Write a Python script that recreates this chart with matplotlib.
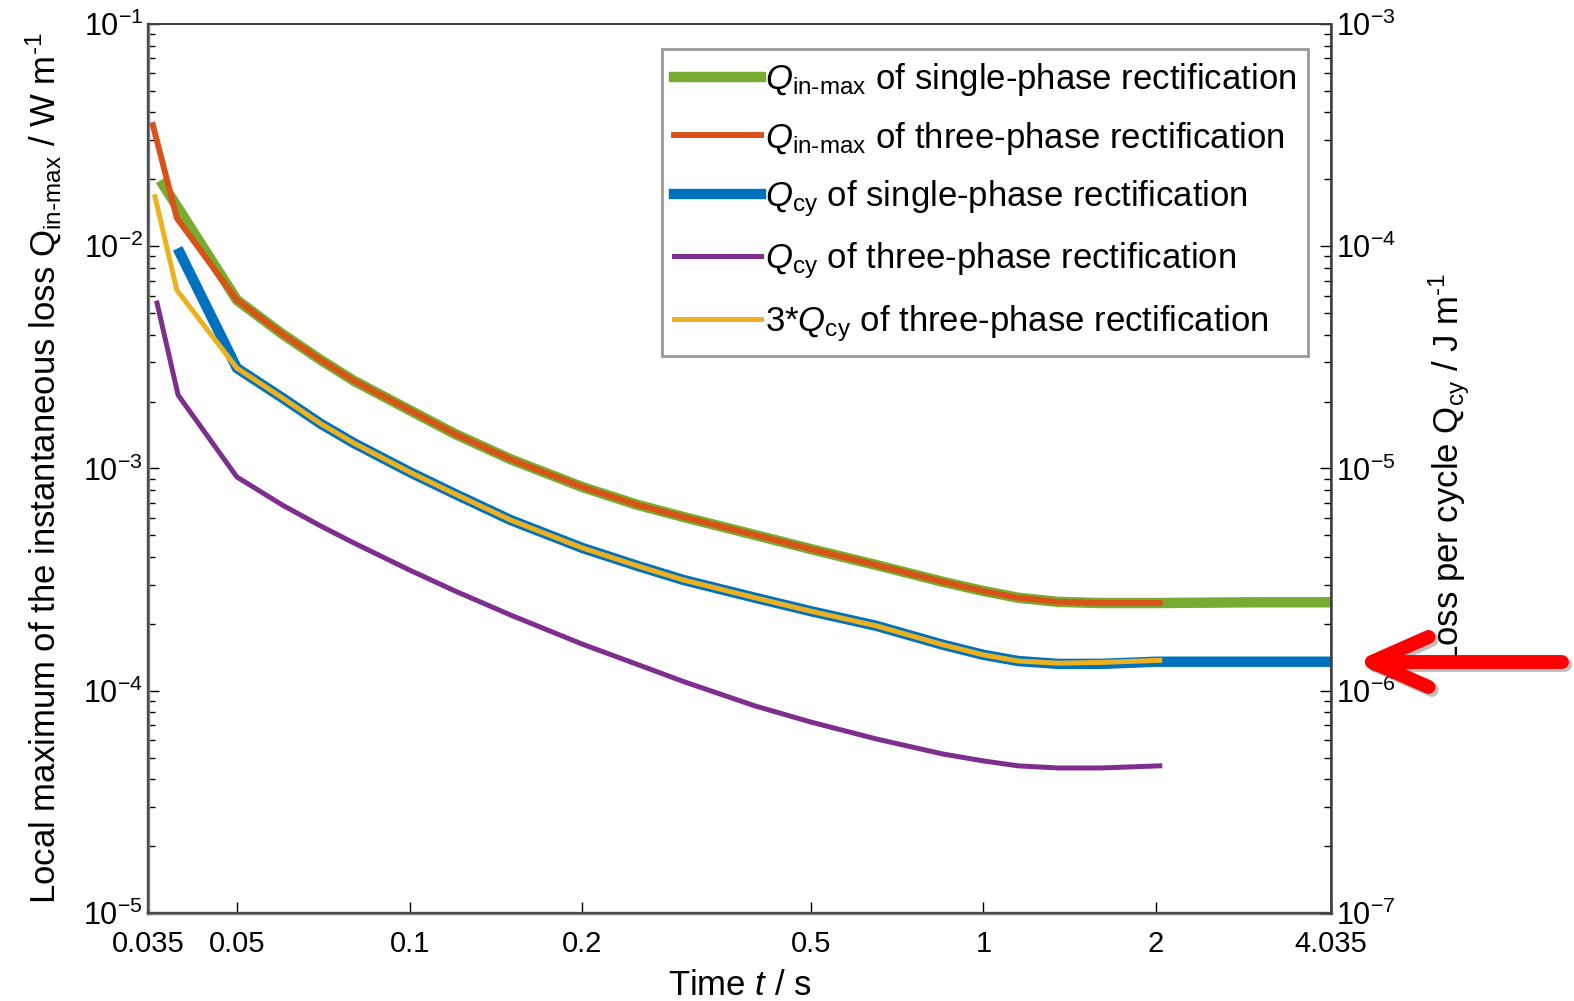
import matplotlib
matplotlib.use("Agg")
import matplotlib.pyplot as plt
from matplotlib.lines import Line2D
from matplotlib.ticker import FixedLocator, FixedFormatter, LogLocator, NullFormatter

plt.rcParams.update({
    "font.family": ["Liberation Sans", "DejaVu Sans"],
    "mathtext.fontset": "custom",
    "mathtext.rm": "Liberation Sans",
    "mathtext.it": "Liberation Sans:italic",
    "mathtext.bf": "Liberation Sans:bold",
    "xtick.direction": "in",
    "ytick.direction": "in",
})

GREEN  = "#77AC30"
RED    = "#D95319"
BLUE   = "#0072BD"
PURPLE = "#7E2F8E"
YELLOW = "#EDB120"

# shared time grid of the smooth part (s)
t_mid = [0.05, 0.06, 0.07, 0.08, 0.1, 0.12, 0.15, 0.2, 0.25, 0.3, 0.4, 0.5,
         0.65, 0.85, 1.0, 1.15, 1.35, 1.6, 2.0]

# Q_in-max, left axis (W m^-1)
q_inmax = [5.73e-3, 4.03e-3, 3.08e-3, 2.48e-3, 1.83e-3, 1.43e-3, 1.10e-3, 8.25e-4,
           6.85e-4, 6.05e-4, 5.02e-4, 4.34e-4, 3.68e-4, 3.09e-4, 2.81e-4, 2.62e-4,
           2.51e-4, 2.48e-4, 2.48e-4]
t_green = [0.0372] + t_mid + [3.0, 4.035]
q_green = [1.89e-2] + q_inmax + [2.50e-4, 2.50e-4]
t_red = [0.0357, 0.0393] + t_mid[:-1] + [2.03]
q_red = [3.51e-2, 1.34e-2] + q_inmax

# Q_cy, right axis (J m^-1)
q_cy1 = [2.83e-5, 2.08e-5, 1.59e-5, 1.30e-5, 9.64e-6, 7.68e-6, 5.86e-6, 4.39e-6,
         3.64e-6, 3.15e-6, 2.62e-6, 2.28e-6, 1.96e-6, 1.61e-6, 1.45e-6, 1.36e-6,
         1.32e-6, 1.32e-6, 1.35e-6]
t_blue = [0.0398] + t_mid + [3.0, 4.035]
q_blue = [9.32e-5] + q_cy1 + [1.35e-6, 1.35e-6]

t_purple = [0.0363, 0.0395] + t_mid[:-1] + [2.03]
q_purple = [5.55e-5, 2.14e-5, 9.16e-6, 6.85e-6, 5.51e-6, 4.62e-6, 3.49e-6, 2.81e-6,
            2.19e-6, 1.62e-6, 1.31e-6, 1.10e-6, 8.54e-7, 7.23e-7, 6.07e-7, 5.19e-7,
            4.83e-7, 4.59e-7, 4.49e-7, 4.49e-7, 4.59e-7]

t_yellow = [0.0360, 0.0393] + t_mid[:-1] + [2.03]
q_yellow = [1.67e-4, 6.35e-5, 2.83e-5, 2.08e-5, 1.59e-5, 1.30e-5, 9.64e-6, 7.68e-6,
            5.86e-6, 4.39e-6, 3.64e-6, 3.15e-6, 2.62e-6, 2.28e-6, 1.96e-6, 1.61e-6,
            1.45e-6, 1.36e-6, 1.33e-6, 1.34e-6, 1.37e-6]

xticks = [0.035, 0.05, 0.1, 0.2, 0.5, 1, 2, 4.035]
xticklabels = ["0.035", "0.05", "0.1", "0.2", "0.5", "1", "2", "4.035"]

labels = [
    r"$Q_{\text{in-max}}$ of single-phase rectification",
    r"$Q_{\text{in-max}}$ of three-phase rectification",
    r"$Q_{\text{cy}}$ of single-phase rectification",
    r"$Q_{\text{cy}}$ of three-phase rectification",
    r"3*$Q_{\text{cy}}$ of three-phase rectification",
]

fig = plt.figure(figsize=(15.74, 10.01), dpi=100)
ax = fig.add_axes([0.094, 0.088, 0.7516, 0.888])
ax2 = ax.twinx()

l1, = ax.plot(t_green, q_green, color=GREEN, lw=7.5)
l2, = ax.plot(t_red, q_red, color=RED, lw=4.3)
l3, = ax2.plot(t_blue, q_blue, color=BLUE, lw=7.5)
l4, = ax2.plot(t_purple, q_purple, color=PURPLE, lw=3.6)
l5, = ax2.plot(t_yellow, q_yellow, color=YELLOW, lw=3.6)

for a in (ax, ax2):
    a.set_xscale("log")
    a.set_yscale("log")
    a.set_xlim(0.035, 4.035)
ax.set_ylim(1e-5, 1e-1)
ax2.set_ylim(1e-7, 1e-3)

ax.xaxis.set_major_locator(FixedLocator(xticks))
ax.xaxis.set_major_formatter(FixedFormatter(xticklabels))
ax.xaxis.set_minor_locator(FixedLocator([]))
ax.tick_params(axis="x", labelsize=21, length=8, width=1, pad=12, top=False)

for a in (ax, ax2):
    a.yaxis.set_major_locator(LogLocator(base=10, numticks=10))
    a.yaxis.set_minor_locator(LogLocator(base=10, subs=range(2, 10), numticks=10))
    a.yaxis.set_minor_formatter(NullFormatter())
    a.tick_params(axis="y", which="major", labelsize=22, length=8, width=1)
    a.tick_params(axis="y", which="minor", length=5, width=1)
    for s in a.spines.values():
        s.set_color("#404040")
        s.set_linewidth(1.2)
ax.spines["left"].set_linewidth(2.5)
ax.spines["left"].set_color("#808080")
ax.spines["bottom"].set_linewidth(2.5)
ax.spines["bottom"].set_color("#808080")
ax2.spines["right"].set_linewidth(1.8)

ax.set_xlabel(r"Time $t$ / s", fontsize=25, labelpad=8)
ax.set_ylabel(r"Local maximum of the instantaneous loss Q$_{\text{in-max}}$ / W m$^{\text{-1}}$",
              fontsize=25, labelpad=14)
ax2.set_ylabel(r"Loss per cycle Q$_{\text{cy}}$ / J m$^{\text{-1}}$", fontsize=25, labelpad=22)

leg = ax2.legend([l1, l2, l3, l4, l5], labels, loc="upper right",
                 bbox_to_anchor=(0.9955, 0.9915), fontsize=25, handlelength=2.5,
                 handletextpad=0.1, labelspacing=0.62, borderpad=0.35,
                 fancybox=False, framealpha=1, edgecolor="#999999")
leg.get_frame().set_linewidth(2)

# red call-out arrow pointing at the right axis
TIP = (0.8716, 0.3387)
TAIL_X = 0.9925
ARM_DX, ARM_DY = 0.0360, 0.0250
for dx, dy, col, al in ((0.002, -0.003, "#000000", 0.25), (0, 0, "#ff0000", 1.0)):
    kw = dict(transform=fig.transFigure, color=col, alpha=al, lw=10,
              solid_capstyle="round", solid_joinstyle="round", zorder=10)
    fig.add_artist(Line2D([TIP[0] + dx, TAIL_X + dx], [TIP[1] + dy, TIP[1] + dy], **kw))
    fig.add_artist(Line2D([TIP[0] + ARM_DX + dx, TIP[0] + dx, TIP[0] + ARM_DX + dx],
                          [TIP[1] + ARM_DY + dy, TIP[1] + dy, TIP[1] - ARM_DY + dy], **kw))

fig.savefig("out.png", dpi=100)
